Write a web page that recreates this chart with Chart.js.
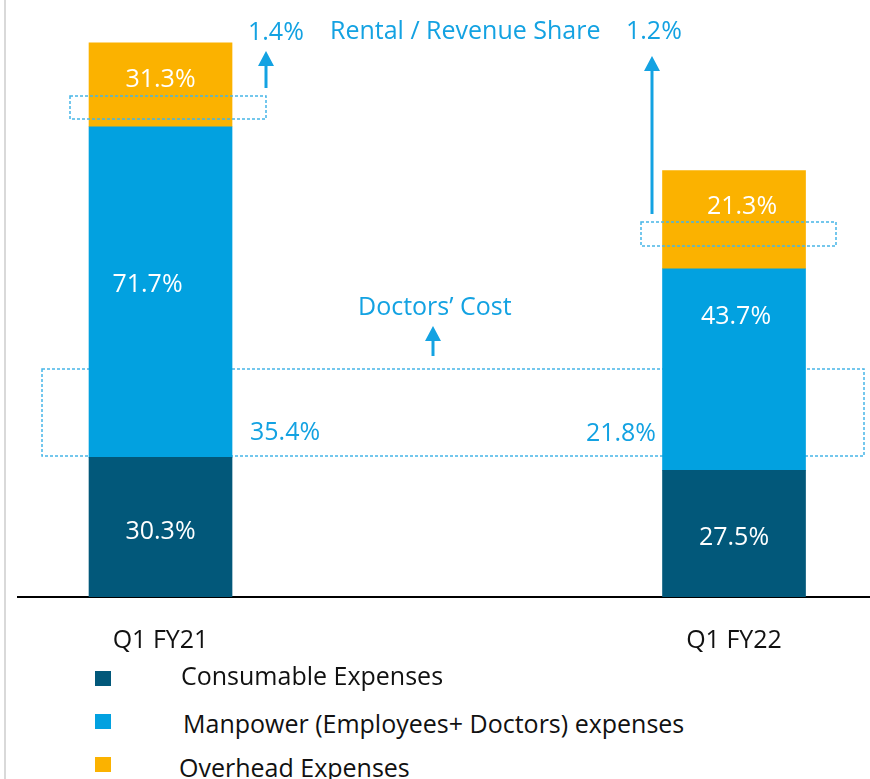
<!DOCTYPE html>
<html>
<head>
<meta charset="utf-8">
<script src="https://cdn.jsdelivr.net/npm/chart.js@4/dist/chart.umd.min.js"></script>
<style>
body{margin:0;background:#fff;font-family:"Open Sans",sans-serif;}
#wrap{position:relative;width:870px;height:779px;overflow:hidden;}
#edge{position:absolute;left:4px;top:0;width:2px;height:779px;background:#d9d9d9;}
#c{position:absolute;left:0;top:0;}
.lg-box{position:absolute;width:16px;height:15px;}
.lg-txt{position:absolute;font-size:25px;line-height:25px;color:#111;white-space:nowrap;}
</style>
</head>
<body>
<div id="wrap">
  <div id="edge"></div>
  <canvas id="c" width="870" height="660"></canvas>
  <div id="legend"></div>
</div>
<script>
// data
const categories=['Q1 FY21','Q1 FY22'];
const seriesNames=['Consumable Expenses','Manpower (Employees+ Doctors) expenses','Overhead Expenses'];
const consumable=[30.3,27.5];
const manpower=[71.7,43.7];
const overhead=[18.2,21.3];        // drawn height; FY21 segment is shorter than its label
const consumableLabels=[30.3,27.5];
const manpowerLabels=[71.7,43.7];
const overheadLabels=[31.3,21.3];
const rentalShare=[1.4,1.2];
const doctorsShare=[35.4,21.8];

const COL=['#02587A','#02A1E0','#FBB200'];
const BLUE='#13A2E2', DASH='#45B5E7';
const FONT='"Open Sans", sans-serif';

// pixel nudges of the in-bar labels from the segment centre [dx,dy]
const nudge=[[[0,3],[0,2]],[[-13,-9],[2,-54]],[[0,-7],[8,-15]]];
const segLabels=[consumableLabels,manpowerLabels,overheadLabels];

function capText(ctx,str,x,yc,align,color,size){
  size=size||25;
  ctx.font=size+'px '+FONT; ctx.fillStyle=color; ctx.textAlign=align; ctx.textBaseline='alphabetic';
  ctx.fillText(str,x,yc+size*0.714/2);
}
function arrow(ctx,x,yb,yt){
  ctx.strokeStyle=BLUE; ctx.fillStyle=BLUE; ctx.lineWidth=3;
  ctx.beginPath(); ctx.moveTo(x,yb); ctx.lineTo(x,yt+12); ctx.stroke();
  ctx.beginPath(); ctx.moveTo(x,yt); ctx.lineTo(x-8,yt+15); ctx.lineTo(x+8,yt+15); ctx.closePath(); ctx.fill();
}
function dashBox(ctx,x1,y1,x2,y2){
  ctx.save(); ctx.strokeStyle=DASH; ctx.lineWidth=1.5; ctx.setLineDash([3,2]);
  ctx.strokeRect(x1,y1,x2-x1,y2-y1); ctx.restore();
}

const notes={
  id:'notes',
  beforeDatasetsDraw(chart){
    dashBox(chart.ctx,42,369,864,456);
  },
  afterDatasetsDraw(chart){
    const ctx=chart.ctx;
    dashBox(ctx,70,96,266,119);
    dashBox(ctx,641,222,836,246);
    // in-bar values
    chart.data.datasets.forEach((ds,di)=>{
      chart.getDatasetMeta(di).data.forEach((bar,i)=>{
        const yc=(bar.y+bar.base)/2;
        capText(ctx,segLabels[di][i].toFixed(1)+'%',bar.x+nudge[di][i][0],yc+nudge[di][i][1],'center','#fff');
      });
    });
    // rental / revenue share
    arrow(ctx,266,88,51);
    arrow(ctx,652,214,56);
    capText(ctx,rentalShare[0].toFixed(1)+'%',248,31,'left',BLUE);
    capText(ctx,'Rental / Revenue Share',330,30,'left',BLUE);
    capText(ctx,rentalShare[1].toFixed(1)+'%',626,30,'left',BLUE);
    // doctors' cost
    arrow(ctx,433,356,326);
    capText(ctx,'Doctors\u2019 Cost',358,306,'left',BLUE);
    capText(ctx,doctorsShare[0].toFixed(1)+'%',250,431,'left',BLUE);
    capText(ctx,doctorsShare[1].toFixed(1)+'%',656,432,'right',BLUE);
  }
};

const mk=(arr)=>arr.map((v,i)=>({x:i,y:v}));
new Chart(document.getElementById('c'),{
  type:'bar',
  data:{datasets:[
    {label:seriesNames[0],data:mk(consumable),backgroundColor:COL[0]},
    {label:seriesNames[1],data:mk(manpower),backgroundColor:COL[1]},
    {label:seriesNames[2],data:mk(overhead),backgroundColor:COL[2]}
  ]},
  options:{
    responsive:false,animation:false,
    layout:{padding:{left:18,right:0,top:0,bottom:0}},
    datasets:{bar:{barThickness:143,borderWidth:0}},
    plugins:{legend:{display:false},tooltip:{enabled:false}},
    scales:{
      x:{type:'linear',stacked:true,offset:false,min:-0.2485,max:1.2371,
        afterBuildTicks:s=>{s.ticks=categories.map((c,i)=>({value:i}));},
        afterFit:s=>{s.height=63;},
        grid:{display:false,drawTicks:false,offset:false},
        border:{display:true,color:'#000',width:2},
        ticks:{padding:29,color:'#111',font:{family:FONT,size:25},callback:v=>categories[v]}
      },
      y:{stacked:true,display:false,min:0,max:129.5}
    }
  },
  plugins:[notes]
});

// legend
const lg=document.getElementById('legend');
const boxTop=[671,714,757], txtTop=[663,711,755], txtLeft=[181,183,179];
seriesNames.forEach((n,i)=>{
  lg.innerHTML+=`<div class="lg-box" style="left:95px;top:${boxTop[i]}px;background:${COL[i]}"></div>`+
    `<div class="lg-txt" style="left:${txtLeft[i]}px;top:${txtTop[i]}px">${n}</div>`;
});
</script>
</body>
</html>
